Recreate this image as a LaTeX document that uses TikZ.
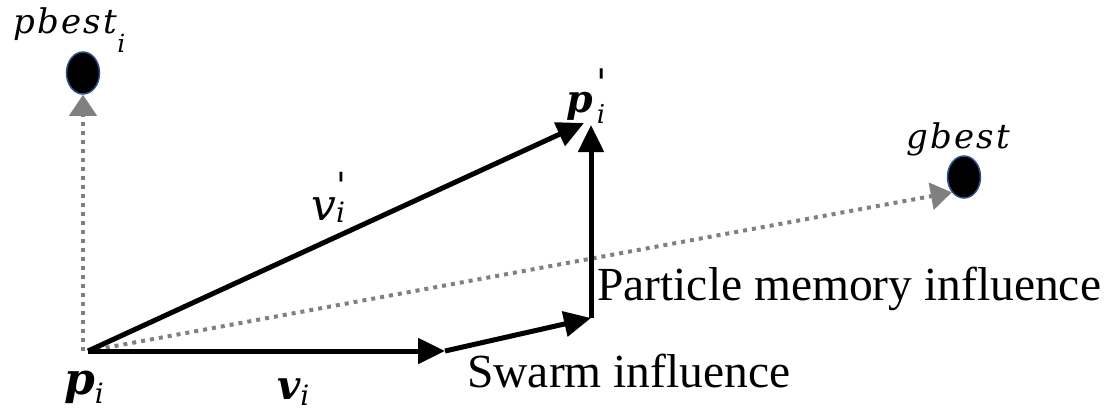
\documentclass[tikz,border=0pt]{standalone}
\usepackage{fontspec}
\setmainfont{Liberation Serif}
\newfontfamily\mfont[LetterSpace=7]{DejaVu Serif}
\newfontfamily\pfont[Ligatures=TeXOff]{DejaVu Serif}
\usetikzlibrary{arrows.meta,shapes.geometric}
\definecolor{dotgray}{RGB}{128,128,128}
\definecolor{rimblue}{RGB}{47,82,143}
\newcommand\fs[1]{\fontsize{#1}{#1}\selectfont}
\begin{document}
\begin{tikzpicture}[x=1pt,y=-1pt,
  vec/.style={line width=5pt, -{Triangle[length=27pt,width=25pt]}},
  aim/.style={dotgray, line width=4pt, dash pattern=on 4pt off 5pt, -{Triangle[length=21pt,width=27pt]}},
  best/.style={ellipse, fill=black, draw=rimblue, line width=1.5pt, minimum width=33pt, minimum height=42pt, inner sep=0pt},
  txt/.style={anchor=base west, inner sep=0pt, font=\fs{47.5}},
  lab/.style={anchor=base west, inner sep=0pt}]
\useasboundingbox (0,0) rectangle (1107,413);
% points
\coordinate (O) at (88,351);
\coordinate (A) at (445,351);
\coordinate (B) at (591,318);
\coordinate (P) at (591,125);
\coordinate (Q) at (584,123);
\node[best] (pb) at (83,73) {};
\node[best] (gb) at (964,177) {};
% dotted guides
\draw[aim] (pb.south |- O) -- (pb.south);
\draw[aim] (O) -- (gb.south west);
% vectors
\draw[vec] (O) -- (A);
\draw[vec] (A) -- (B);
\draw[vec] (B) -- (P);
\draw[vec] (O) -- (Q);
% labels
\node[lab] (lpb) at (13,33) {{\mfont\itshape\fs{34}pbest}\raisebox{-19pt}{\mfont\itshape\fs{25}i}};
\node[lab] (lgb) at (906,148) {{\mfont\itshape\fs{34}gbest}};
\node[lab] (lpp) at (566,112) {{\mfont\bfseries\itshape\fs{38}p}\kern4pt\rlap{\raisebox{16pt}{\pfont\itshape\fs{38}'}}\raisebox{-11pt}{\mfont\itshape\fs{26}i}};
\node[lab] (lvp) at (311,220) {{\mfont\itshape\fs{44}v}\rlap{\raisebox{22pt}{\pfont\fs{36}'}}\raisebox{-2pt}{\mfont\itshape\fs{28}i}};
\node[lab] (lp) at (64,394) {{\mfont\bfseries\itshape\fs{44}p}\raisebox{-9pt}{\mfont\itshape\fs{28}i}};
\node[lab] (lv) at (277,399) {{\mfont\bfseries\itshape\fs{40}v}\raisebox{-6pt}{\mfont\itshape\fs{28}i}};
\node[txt] (pm) at (597,300) {Particle memory influence};
\node[txt] (sw) at (467,387) {Swarm influence};
\end{tikzpicture}
\end{document}
